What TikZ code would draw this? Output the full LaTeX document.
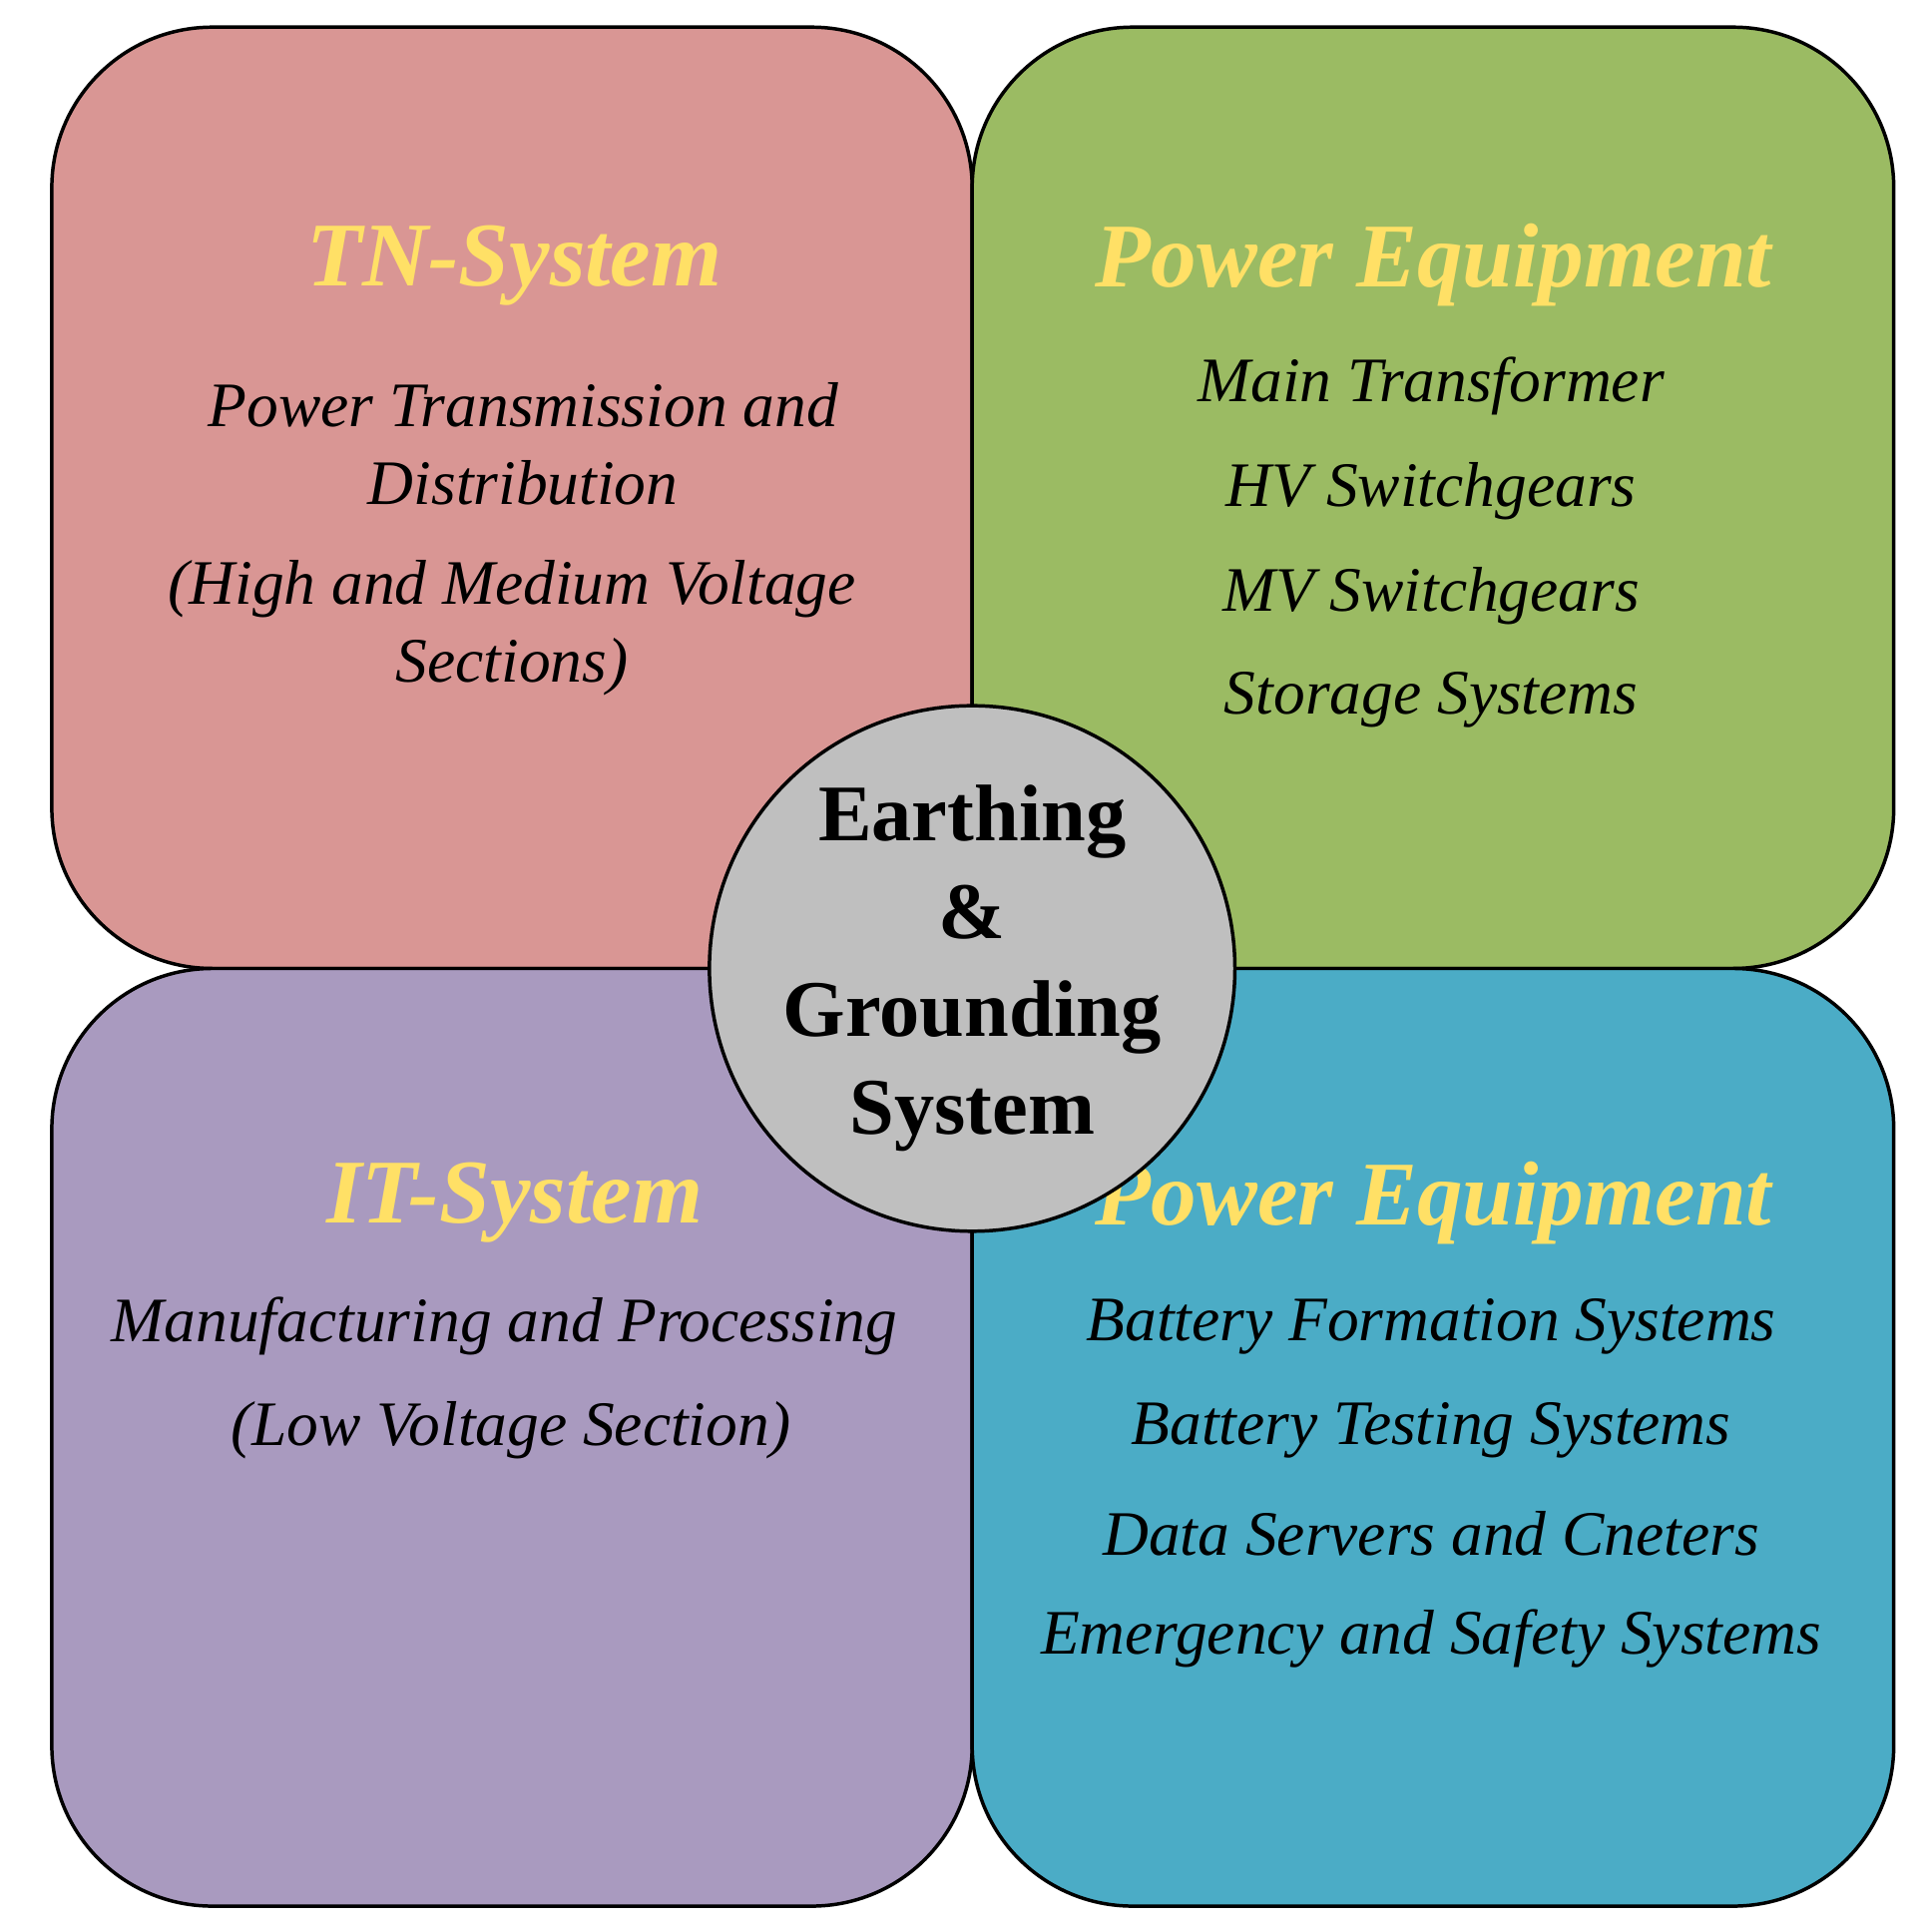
\documentclass[tikz,border=0pt]{standalone}
\usepackage{fontspec}
\setmainfont{Liberation Serif}
\definecolor{tnred}{HTML}{D99694}
\definecolor{pegreen}{HTML}{9BBB63}
\definecolor{itpurple}{HTML}{A99ABF}
\definecolor{peblue}{HTML}{4BACC6}
\definecolor{titleyellow}{HTML}{FFE066}
\tikzset{
  box/.style={draw=black, thick, rounded corners=1.3cm},
  title/.style={font=\fontsize{21}{24}\selectfont\bfseries\itshape, text=titleyellow},
  item/.style={font=\fontsize{14.6}{18}\selectfont\itshape, align=center}
}
\begin{document}
\begin{tikzpicture}[x=0.01cm, y=-0.01cm]
  \useasboundingbox (0,0) rectangle (1560,1566);
  
  \draw[box, fill=tnred] (42,22) rectangle (788,785);
  \draw[box, fill=pegreen] (788,22) rectangle (1535,785);
  \draw[box, fill=itpurple] (42,785) rectangle (788,1545);
  \draw[box, fill=peblue] (788,785) rectangle (1535,1545);
  
  \node[title] (tn) at (417,215) {TN-System};
  \node[item] (tn1) at (424,360) {Power Transmission and\\Distribution};
  \node[item] (tn2) at (415,509) {(High and Medium Voltage\\Sections)};
  
  \node[title] (pe1) at (1162,215) {Power Equipment};
  \node[item] (pe11) at (1160,313) {Main Transformer};
  \node[item] (pe12) at (1160,398) {HV Switchgears};
  \node[item] (pe13) at (1160,483) {MV Switchgears};
  \node[item] (pe14) at (1160,567) {Storage Systems};
  
  \node[title] (it) at (417,975) {IT-System};
  \node[item] (it1) at (409,1075) {Manufacturing and Processing};
  \node[item] (it2) at (414,1159) {(Low Voltage Section)};
  
  \node[title] (pe2) at (1162,975) {Power Equipment};
  \node[item] (pe21) at (1160,1075) {Battery Formation Systems};
  \node[item] (pe22) at (1160,1159) {Battery Testing Systems};
  \node[item] (pe23) at (1160,1243) {Data Servers and Cneters};
  \node[item] (pe24) at (1160,1328) {Emergency and Safety Systems};
  
  \node[circle, draw=black, thick, fill=black!25, minimum size=4.24cm, inner sep=0pt,
    font=\fontsize{18.5}{22.5}\selectfont\bfseries, align=center] (center) at (788,785)
    {Earthing\\\&\\Grounding\\System};
\end{tikzpicture}
\end{document}
